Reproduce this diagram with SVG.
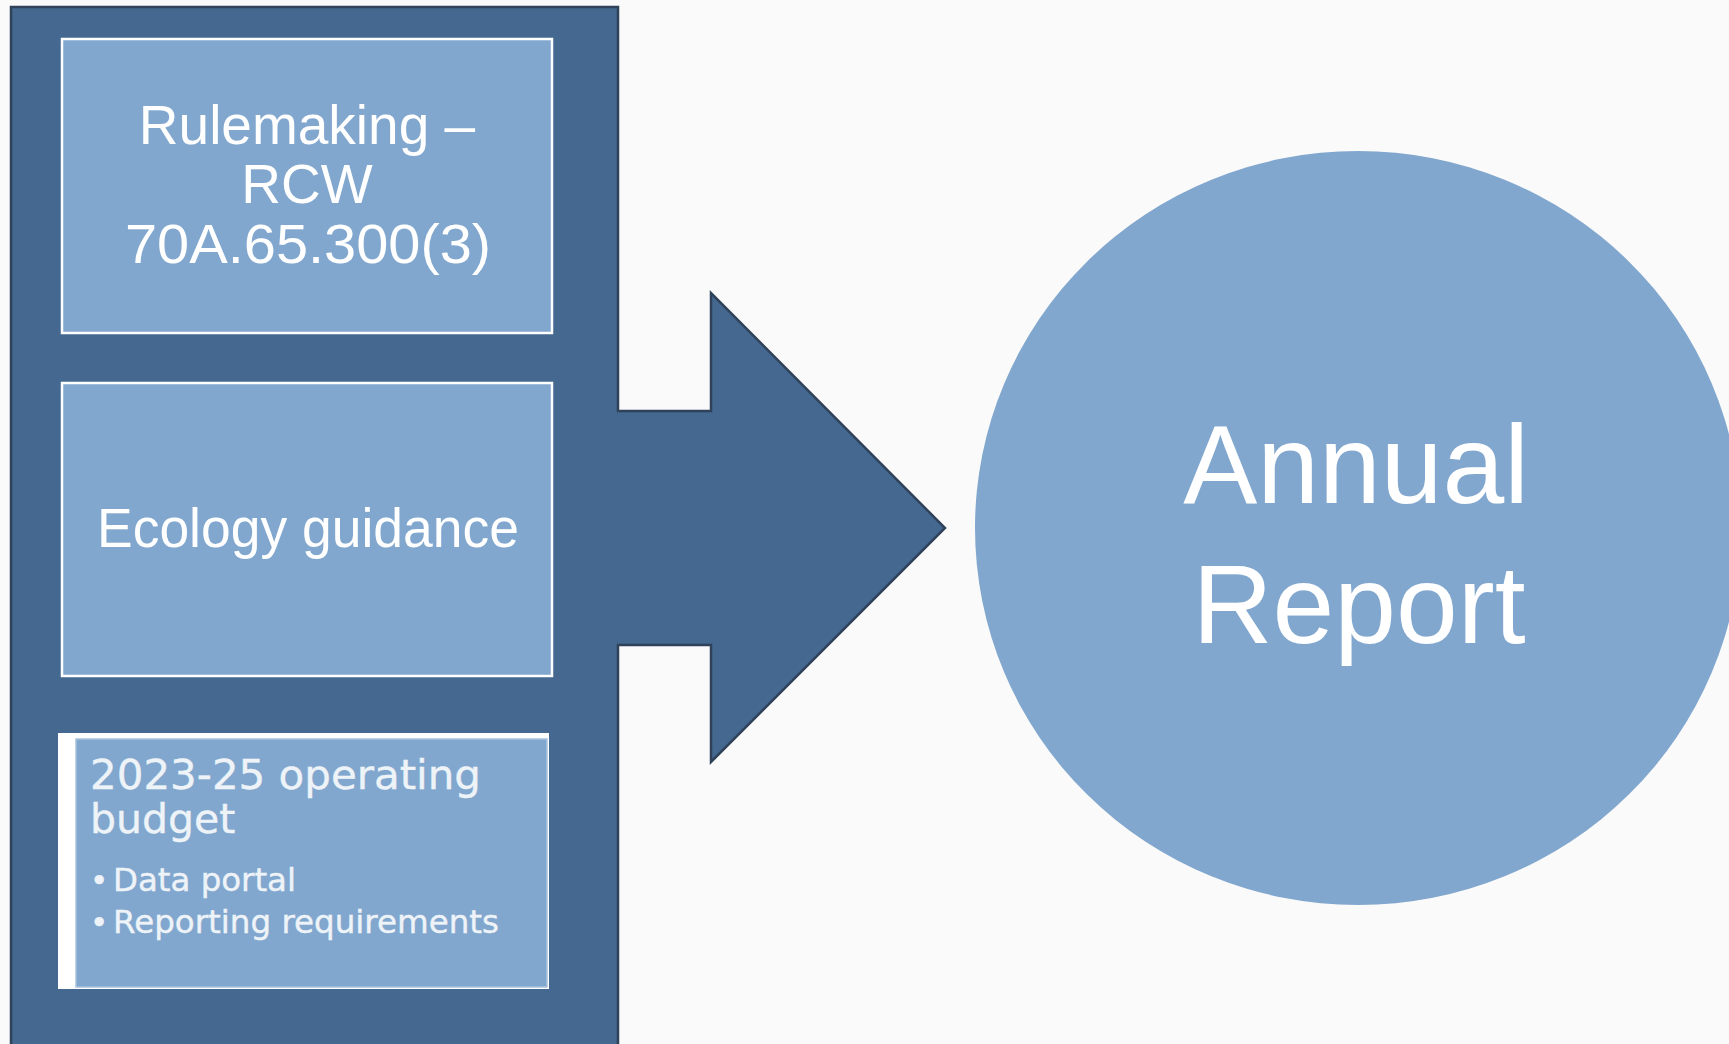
<svg xmlns="http://www.w3.org/2000/svg" width="1729" height="1044" viewBox="0 0 1729 1044">
  <style>
    .panel { fill: #44688F; stroke: #2F4259; stroke-width: 2.5; stroke-linejoin: miter; }
    .box { fill: #81A7CE; stroke: #FFFFFF; stroke-width: 2.5; }
    .lbl { fill: #FFFFFF; font-family: "Liberation Sans", Arial, sans-serif; font-size: 55px; text-anchor: middle; }
    .big { fill: #FFFFFF; font-family: "Liberation Sans", Arial, sans-serif; font-size: 111px; text-anchor: middle; }
    .img { fill: #EEF3F8; stroke: #EEF3F8; stroke-width: 0.4; font-family: "DejaVu Sans", "Liberation Sans", sans-serif; }
  </style>
  <rect x="0" y="0" width="1729" height="1044" fill="#FAFAFA"/>

  <g id="connectors">
    <path class="panel" d="M11,7 L618,7 L618,411 L711,411 L711,293 L945,528 L711,762 L711,645 L618,645 L618,1050 L11,1050 Z"/>
  </g>

  <g id="rulemaking">
    <rect class="box" x="62" y="39" width="490" height="294"/>
    <text class="lbl" x="307" y="144">Rulemaking –</text>
    <text class="lbl" x="307" y="203">RCW</text>
    <text class="lbl" x="308" y="263" textLength="366" lengthAdjust="spacingAndGlyphs">70A.65.300(3)</text>
  </g>

  <g id="ecology-guidance">
    <rect class="box" x="62" y="383" width="490" height="293"/>
    <text class="lbl" x="308" y="547" textLength="422" lengthAdjust="spacingAndGlyphs">Ecology guidance</text>
  </g>

  <g id="operating-budget">
    <rect x="58" y="733" width="491" height="256" fill="#FFFFFF"/>
    <rect x="76" y="739" width="471" height="248" fill="#81A7CE" stroke="#A9C3DD" stroke-width="1.5"/>
    <text class="img" x="90" y="789" font-size="41" textLength="391" lengthAdjust="spacingAndGlyphs">2023-25 operating</text>
    <text class="img" x="90" y="833" font-size="41">budget</text>
    <text class="img" x="90" y="891" font-size="31">•</text>
    <text class="img" x="113" y="891" font-size="31.5" textLength="183" lengthAdjust="spacingAndGlyphs">Data portal</text>
    <text class="img" x="90" y="933" font-size="31">•</text>
    <text class="img" x="113" y="933" font-size="31.5" textLength="386" lengthAdjust="spacingAndGlyphs">Reporting requirements</text>
  </g>

  <g id="annual-report">
    <ellipse cx="1358" cy="528" rx="383" ry="377" fill="#81A7CE"/>
    <text class="big" x="1356" y="503">Annual</text>
    <text class="big" x="1359" y="643">Report</text>
  </g>
</svg>
